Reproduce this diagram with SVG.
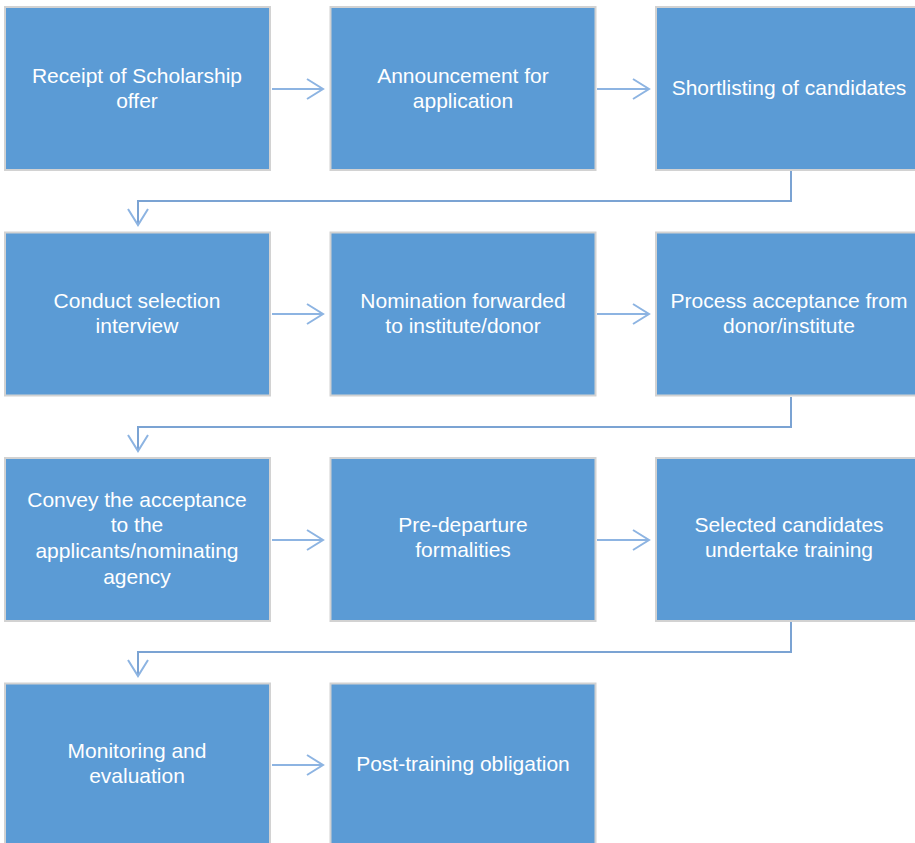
<svg xmlns="http://www.w3.org/2000/svg" width="915" height="843" viewBox="0 0 915 843">
<style>
.box{fill:#5B9BD5;stroke:#D2D2D2;stroke-width:2}
.t{font-family:"Liberation Sans",Arial,sans-serif;font-size:21px;fill:#FFFFFF;text-anchor:middle}
.c{fill:none;stroke:#8DB4E2;stroke-width:2}
.e{fill:none;stroke:#7BA3D3;stroke-width:2}
</style>
<defs>
<marker id="ah" markerWidth="20" markerHeight="24" refX="17" refY="11" orient="auto" markerUnits="userSpaceOnUse">
<path d="M1,1 L17,11 L1,21" fill="none" stroke="#8DB4E2" stroke-width="2"/>
</marker>
</defs>
<rect width="915" height="843" fill="#FFFFFF"/>
<g id="n1"><rect class="box" x="5" y="7" width="265" height="163"/><text class="t" x="137" y="83">Receipt of Scholarship</text><text class="t" x="137" y="108">offer</text></g>
<g id="n2"><rect class="box" x="330.5" y="7" width="265" height="163"/><text class="t" x="463" y="83">Announcement for</text><text class="t" x="463" y="108">application</text></g>
<g id="n3"><rect class="box" x="656" y="7" width="265" height="163"/><text class="t" x="789" y="95">Shortlisting of candidates</text></g>
<g id="n4"><rect class="box" x="5" y="232.5" width="265" height="163"/><text class="t" x="137" y="308">Conduct selection</text><text class="t" x="137" y="333">interview</text></g>
<g id="n5"><rect class="box" x="330.5" y="232.5" width="265" height="163"/><text class="t" x="463" y="308">Nomination forwarded</text><text class="t" x="463" y="333">to institute/donor</text></g>
<g id="n6"><rect class="box" x="656" y="232.5" width="265" height="163"/><text class="t" x="789" y="308">Process acceptance from</text><text class="t" x="789" y="333">donor/institute</text></g>
<g id="n7"><rect class="box" x="5" y="458" width="265" height="163"/><text class="t" x="137" y="507">Convey the acceptance</text><text class="t" x="137" y="532">to the</text><text class="t" x="137" y="558">applicants/nominating</text><text class="t" x="137" y="584">agency</text></g>
<g id="n8"><rect class="box" x="330.5" y="458" width="265" height="163"/><text class="t" x="463" y="532">Pre-departure</text><text class="t" x="463" y="557">formalities</text></g>
<g id="n9"><rect class="box" x="656" y="458" width="265" height="163"/><text class="t" x="789" y="532">Selected candidates</text><text class="t" x="789" y="557">undertake training</text></g>
<g id="n10"><rect class="box" x="5" y="683.5" width="265" height="170"/><text class="t" x="137" y="758">Monitoring and</text><text class="t" x="137" y="783">evaluation</text></g>
<g id="n11"><rect class="box" x="330.5" y="683.5" width="265" height="170"/><text class="t" x="463" y="771">Post-training obligation</text></g>
<g id="connectors">
<line class="c" x1="272" y1="89" x2="323" y2="89" marker-end="url(#ah)"/>
<line class="c" x1="597" y1="89" x2="649" y2="89" marker-end="url(#ah)"/>
<polyline class="e" points="791,171 791,201 138,201 138,225" marker-end="url(#ah)"/>
<line class="c" x1="272" y1="314" x2="323" y2="314" marker-end="url(#ah)"/>
<line class="c" x1="597" y1="314" x2="649" y2="314" marker-end="url(#ah)"/>
<polyline class="e" points="791,397 791,427 138,427 138,451" marker-end="url(#ah)"/>
<line class="c" x1="272" y1="540" x2="323" y2="540" marker-end="url(#ah)"/>
<line class="c" x1="597" y1="540" x2="649" y2="540" marker-end="url(#ah)"/>
<polyline class="e" points="791,622 791,652 138,652 138,676" marker-end="url(#ah)"/>
<line class="c" x1="272" y1="765" x2="323" y2="765" marker-end="url(#ah)"/>
</g>
</svg>
